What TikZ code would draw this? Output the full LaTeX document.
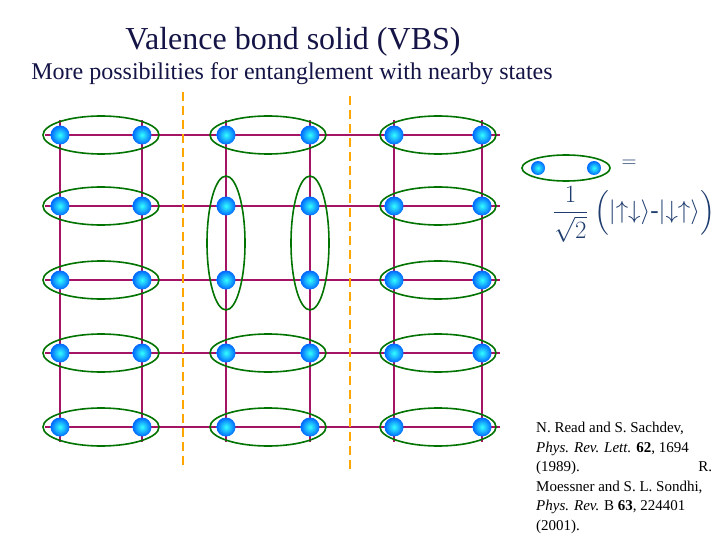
\documentclass[tikz,border=0pt]{standalone}
\usepackage{fontspec}
\setmainfont{Liberation Serif}
\usepackage{amsmath}
\definecolor{lat}{RGB}{165,20,100}
\definecolor{ink}{RGB}{20,20,70}
\definecolor{fink}{RGB}{30,60,110}
\begin{document}
\begin{tikzpicture}[x=1pt,y=-1pt,
  bond/.style={draw=green!45!black,line width=1.6pt},
  latt/.style={draw=lat,line width=1.8pt},
  dot/.style={circle,minimum size=19pt,inner sep=0pt,inner color=cyan!80!white,outer color=blue!60!cyan},
  cut/.style={draw=orange!70!yellow,line width=2.5pt,dash pattern=on 9pt off 5pt}]
\useasboundingbox (0,0) rectangle (720,540);
\node (t1) at (293,42) {\fontsize{32}{36}\selectfont\color{ink}Valence bond solid (VBS)};
\node (t2) at (292,74) {\fontsize{24}{28}\selectfont\color{ink}More possibilities for entanglement with nearby states};
\foreach \y in {135,206,280,353,427} \draw[latt] (45,\y) -- (500,\y);
\foreach \x in {60,142,226,310,394,482} \draw[latt] (\x,120) -- (\x,442);
\draw[cut] (183,92) -- (183,470);
\draw[cut] (350,96) -- (350,470);
\foreach \y in {135,353,427} \foreach \x in {101,268,438}
  \draw[bond] (\x,\y) ellipse (58 and 19);
\foreach \y in {206,280} \foreach \x in {101,438}
  \draw[bond] (\x,\y) ellipse (58 and 19);
\foreach \x in {226,310} \draw[bond] (\x,243) ellipse (19 and 67);
\foreach \r/\y in {0/135,1/206,2/280,3/353,4/427}
  \foreach \c/\x in {0/60,1/142,2/226,3/310,4/394,5/482}
    \node[dot] (d\r\c) at (\x,\y) {};
\draw[bond] (566,168) ellipse (44 and 13);
\node[dot,minimum size=14pt] (e1) at (538,168) {};
\node[dot,minimum size=14pt] (e2) at (594,168) {};
\node (eq) at (629,164) {\fontsize{22}{22}\selectfont\color{fink}$=$};
\node[anchor=west,inner sep=0pt] (f) at (553,214) {\fontsize{25}{30}\selectfont\color{fink}$\displaystyle\frac{1}{\sqrt{2}}\ \Bigl(\lvert\uparrow\downarrow\rangle\text{-}\lvert\downarrow\uparrow\rangle\Bigr)$};
\node[anchor=north west,inner sep=0pt] (cit) at (536,422) {\parbox{176pt}{\fontsize{15}{19.5}\selectfont
N. Read and S. Sachdev,\\
\textit{Phys. Rev. Lett.} \textbf{62}, 1694\\
(1989).\hfill R.\\
Moessner and S. L. Sondhi,\\
\textit{Phys. Rev.} B \textbf{63}, 224401\\
(2001).}};
\end{tikzpicture}
\end{document}
